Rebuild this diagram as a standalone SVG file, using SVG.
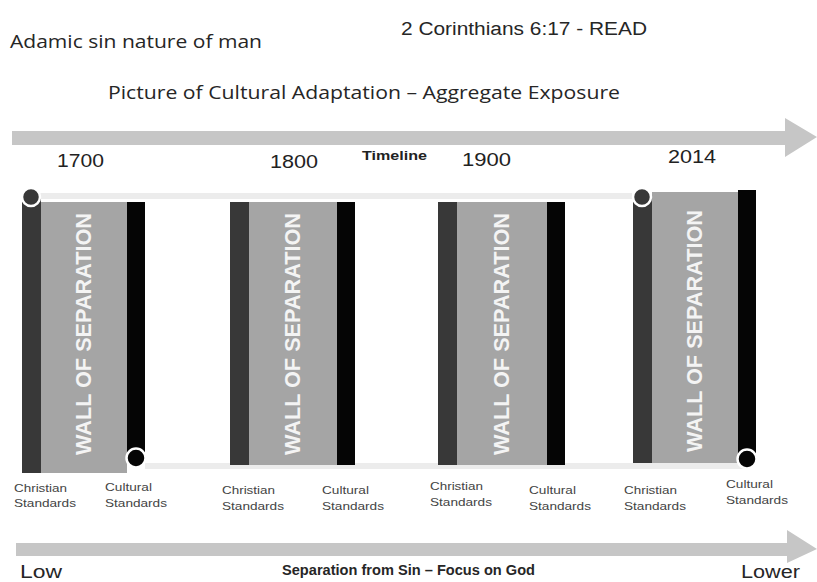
<svg xmlns="http://www.w3.org/2000/svg" width="817" height="582" viewBox="0 0 817 582">
<style>
.dark{fill:#383838}
.wall{fill:#a5a5a5}
.blk{fill:#050505}
.dot{stroke:#ffffff;stroke-width:2.5}
.wt{font-family:"Liberation Sans",Arial,sans-serif;font-weight:bold;font-size:22px;fill:#f4f4f4}
.lbl{font-family:"Liberation Sans",Arial,sans-serif;font-size:11.5px;fill:#444444}
.yr{font-family:"Liberation Sans",Arial,sans-serif;font-size:19px;fill:#222222}
.ttl{font-family:"Open Sans","Noto Sans",sans-serif;fill:#262626}
.arrow{fill:#c6c6c6}
.band{fill:#ececec}
</style>
<rect width="817" height="582" fill="#ffffff"/>
<g id="titles">
<text class="ttl" x="10" y="48" font-size="18" textLength="252" lengthAdjust="spacingAndGlyphs">Adamic sin nature of man</text>
<text x="401" y="35" font-family="Liberation Sans,Arial,sans-serif" font-size="18" fill="#262626" textLength="246" lengthAdjust="spacingAndGlyphs">2 Corinthians 6:17 - READ</text>
<text class="ttl" x="108" y="99" font-size="19" textLength="512" lengthAdjust="spacingAndGlyphs">Picture of Cultural Adaptation – Aggregate Exposure</text>
<text class="yr" x="57" y="167" textLength="47" lengthAdjust="spacingAndGlyphs">1700</text>
<text class="yr" x="270" y="168" textLength="48" lengthAdjust="spacingAndGlyphs">1800</text>
<text x="362" y="160" font-family="Liberation Sans,Arial,sans-serif" font-weight="bold" font-size="13" fill="#222222" textLength="65" lengthAdjust="spacingAndGlyphs">Timeline</text>
<text class="yr" x="462" y="166" textLength="49" lengthAdjust="spacingAndGlyphs">1900</text>
<text class="yr" x="668" y="163" textLength="48" lengthAdjust="spacingAndGlyphs">2014</text>
<text x="20" y="578" font-family="Liberation Sans,Arial,sans-serif" font-size="18" fill="#262626" textLength="42" lengthAdjust="spacingAndGlyphs">Low</text>
<text x="282" y="575" font-family="Liberation Sans,Arial,sans-serif" font-weight="bold" font-size="14" fill="#262626" textLength="253" lengthAdjust="spacingAndGlyphs">Separation from Sin – Focus on God</text>
<text x="741" y="578" font-family="Liberation Sans,Arial,sans-serif" font-size="18" fill="#262626" textLength="59" lengthAdjust="spacingAndGlyphs">Lower</text>
</g>
<g id="connectors">
<polygon class="arrow" points="12,131 785,131 785,118 817,137 785,157 785,145 12,145"/>
<polygon class="arrow" points="16,543 787,543 787,530 817,549 787,563 787,556 16,556"/>
<rect class="band" x="40" y="193" width="592" height="6"/>
<rect class="band" x="145" y="463" width="602" height="6"/>
</g>
<g id="wall-1700">
<rect class="dark" x="22" y="196" width="19" height="277"/>
<rect class="wall" x="41" y="202" width="86" height="271"/>
<rect class="blk" x="127" y="202" width="18" height="262"/>
<circle class="dot" cx="31" cy="197" r="9" fill="#383838"/>
<circle class="dot" cx="136" cy="458" r="9.5" fill="#050505"/>
<text class="wt" transform="translate(91,455) rotate(-90)" textLength="242" lengthAdjust="spacingAndGlyphs">WALL OF SEPARATION</text>
<text class="lbl" x="14" y="492" textLength="53" lengthAdjust="spacingAndGlyphs">Christian</text>
<text class="lbl" x="14" y="507" textLength="62" lengthAdjust="spacingAndGlyphs">Standards</text>
<text class="lbl" x="105" y="491" textLength="47" lengthAdjust="spacingAndGlyphs">Cultural</text>
<text class="lbl" x="105" y="507" textLength="62" lengthAdjust="spacingAndGlyphs">Standards</text>
</g>
<g id="wall-1800">
<rect class="dark" x="230" y="202" width="19" height="263"/>
<rect class="wall" x="249" y="202" width="88" height="263"/>
<rect class="blk" x="337" y="202" width="18" height="263"/>
<text class="wt" transform="translate(300,455) rotate(-90)" textLength="242" lengthAdjust="spacingAndGlyphs">WALL OF SEPARATION</text>
<text class="lbl" x="222" y="494" textLength="53" lengthAdjust="spacingAndGlyphs">Christian</text>
<text class="lbl" x="222" y="510" textLength="62" lengthAdjust="spacingAndGlyphs">Standards</text>
<text class="lbl" x="322" y="494" textLength="47" lengthAdjust="spacingAndGlyphs">Cultural</text>
<text class="lbl" x="322" y="510" textLength="62" lengthAdjust="spacingAndGlyphs">Standards</text>
</g>
<g id="wall-1900">
<rect class="dark" x="438" y="202" width="19" height="263"/>
<rect class="wall" x="457" y="202" width="90" height="263"/>
<rect class="blk" x="547" y="202" width="18" height="263"/>
<text class="wt" transform="translate(509,455) rotate(-90)" textLength="242" lengthAdjust="spacingAndGlyphs">WALL OF SEPARATION</text>
<text class="lbl" x="430" y="490" textLength="53" lengthAdjust="spacingAndGlyphs">Christian</text>
<text class="lbl" x="430" y="506" textLength="62" lengthAdjust="spacingAndGlyphs">Standards</text>
<text class="lbl" x="529" y="494" textLength="47" lengthAdjust="spacingAndGlyphs">Cultural</text>
<text class="lbl" x="529" y="510" textLength="62" lengthAdjust="spacingAndGlyphs">Standards</text>
</g>
<g id="wall-2014">
<rect class="dark" x="633" y="197" width="19" height="266"/>
<rect class="wall" x="652" y="192" width="86" height="271"/>
<rect class="blk" x="738" y="190" width="18" height="268"/>
<circle class="dot" cx="642" cy="197" r="9" fill="#383838"/>
<circle class="dot" cx="747" cy="459" r="9.5" fill="#050505"/>
<text class="wt" transform="translate(702,452) rotate(-90)" textLength="242" lengthAdjust="spacingAndGlyphs">WALL OF SEPARATION</text>
<text class="lbl" x="624" y="494" textLength="53" lengthAdjust="spacingAndGlyphs">Christian</text>
<text class="lbl" x="624" y="510" textLength="62" lengthAdjust="spacingAndGlyphs">Standards</text>
<text class="lbl" x="726" y="488" textLength="47" lengthAdjust="spacingAndGlyphs">Cultural</text>
<text class="lbl" x="726" y="504" textLength="62" lengthAdjust="spacingAndGlyphs">Standards</text>
</g>
</svg>
